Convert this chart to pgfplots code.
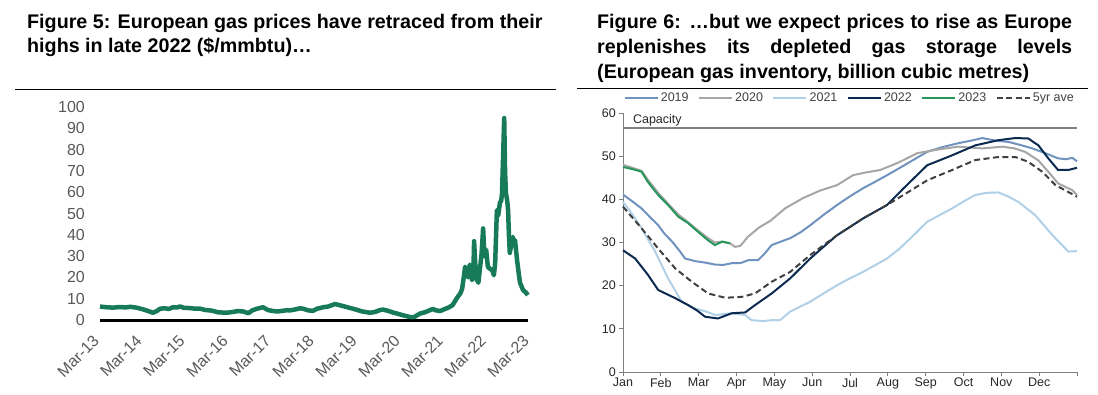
\documentclass[border=0pt]{standalone}
\usepackage{pgfplots}
\pgfplotsset{compat=1.18}
\usepackage{fontspec}
\setmainfont{Liberation Sans}
\definecolor{gasgreen}{RGB}{23,122,88}
\definecolor{tickgray}{RGB}{89,89,89}
\definecolor{axgray}{RGB}{128,128,128}
\definecolor{c2019}{RGB}{112,146,190}
\definecolor{c2020}{RGB}{166,166,166}
\definecolor{c2021}{RGB}{176,208,232}
\definecolor{c2022}{RGB}{12,42,80}
\definecolor{c2023}{RGB}{40,150,90}
\definecolor{c5yr}{RGB}{64,64,64}
\begin{document}
\begin{tikzpicture}
\useasboundingbox (0pt,0pt) rectangle (1098pt,394pt);
% ---------- titles ----------
\begin{scope}[every node/.style={anchor=base west, inner sep=0pt, font=\fontsize{19.7}{24}\selectfont\bfseries}]
\node at (27pt,365pt) {Figure 5: European gas prices have retraced from their};
\node at (27pt,341pt) {highs in late 2022 (\$/mmbtu)…};
\node at (597pt,365pt) {\makebox[475pt][s]{Figure 6: …but we expect prices to rise as Europe}};
\node at (597pt,340pt) {\makebox[475pt][s]{replenishes its depleted gas storage levels}};
\node at (597pt,315pt) {(European gas inventory, billion cubic metres)};
\end{scope}
\draw[line width=1pt] (15pt,304pt) -- (556pt,304pt);
\draw[line width=1pt] (577pt,305pt) -- (1088pt,305pt);
% ---------- left chart ----------
\begin{axis}[at={(100pt,74pt)}, anchor=south west, scale only axis,
  width=430pt, height=213pt, xmin=0, xmax=10, ymin=0, ymax=100,
  axis line style={draw=none}, major tick length=0pt, tick style={draw=none},
  ytick={0,10,...,100}, xtick={0,...,10},
  xticklabels={Mar-13,Mar-14,Mar-15,Mar-16,Mar-17,Mar-18,Mar-19,Mar-20,Mar-21,Mar-22,Mar-23},
  tick label style={font=\fontsize{16}{16}\selectfont, text=tickgray},
  /pgf/number format/assume math mode=true,
  yticklabel style={inner sep=0pt}, yticklabel shift=15pt,
  xticklabel style={xshift=-8pt, anchor=north east, rotate=45, inner sep=0pt}, xticklabel shift=14pt,
  clip=false]
\addplot[black, line width=3pt] coordinates {(0,0) (9.95,0)};
\addplot[gasgreen, line width=4.5pt, line join=round] coordinates {
(0,6.3) (0.15,6.0) (0.3,5.8) (0.45,6.1) (0.6,5.9) (0.7,6.2) (0.85,5.8) (1.0,5.0)
(1.15,4.0) (1.23,3.4) (1.32,4.2) (1.4,5.3) (1.5,5.5) (1.6,5.2) (1.7,6.0) (1.8,5.9)
(1.86,6.4) (1.95,5.7) (2.1,5.6) (2.2,5.3) (2.33,5.3) (2.45,4.7) (2.6,4.4) (2.75,3.6)
(2.95,3.4) (3.1,3.8) (3.2,4.2) (3.33,4.0) (3.45,3.2) (3.55,4.6) (3.65,5.3) (3.79,6.0)
(3.9,4.7) (4.0,4.3) (4.12,4.0) (4.25,4.3) (4.35,4.6) (4.42,4.5) (4.55,5.0) (4.65,5.5)
(4.72,5.3) (4.85,4.5) (4.95,4.3) (5.05,5.3) (5.19,6.0) (5.3,6.3) (5.47,7.5) (5.6,6.8)
(5.75,6.0) (5.88,5.3) (6.0,4.6) (6.1,4.0) (6.28,3.4) (6.4,3.8) (6.5,4.6) (6.58,4.9)
(6.7,4.3) (6.8,3.6) (6.91,3.0) (7.05,2.2) (7.21,1.4) (7.3,1.3) (7.44,3.0) (7.55,3.6)
(7.65,4.4) (7.74,5.2) (7.8,4.6) (7.91,4.2) (8.0,5.0) (8.1,5.8) (8.2,7.0) (8.3,10.3)
(8.38,12.5) (8.42,14.5) (8.46,20) (8.49,25) (8.52,23) (8.56,20) (8.6,26) (8.63,22)
(8.65,18.8) (8.68,19.5) (8.70,37) (8.73,25) (8.77,18.8) (8.8,17.5) (8.84,25) (8.87,30)
(8.91,43) (8.94,30) (8.98,33) (9.02,25) (9.07,24) (9.12,23.5) (9.16,21) (9.19,26.8)
(9.23,51.6) (9.26,49) (9.30,55) (9.33,56) (9.35,59.6) (9.40,94.8) (9.42,70) (9.44,59.6)
(9.47,56) (9.49,51.6) (9.51,40) (9.53,31.5) (9.56,35) (9.60,39) (9.63,35) (9.65,37.6)
(9.70,28) (9.75,20) (9.77,17.4) (9.84,14) (9.9,13) (9.95,11.7)};
\end{axis}
% ---------- right chart ----------
\begin{axis}[at={(623pt,22pt)}, anchor=south west, scale only axis,
  width=454pt, height=259pt, xmin=0, xmax=12, ymin=0, ymax=60,
  axis x line*=bottom, axis y line*=left,
  axis line style={draw=axgray, line width=0.8pt},
  tick align=outside, major tick length=4pt, tick style={draw=axgray, line width=0.8pt},
  xtick={0,...,12}, xticklabels={Jan,Feb,Mar,Apr,May,Jun,Jul,Aug,Sep,Oct,Nov,Dec,{}},
  ytick={0,10,...,60},
  tick label style={font=\fontsize{12.5}{13}\selectfont, text=black!85},
  /pgf/number format/assume math mode=true,
  yticklabel style={inner sep=0pt}, yticklabel shift=3pt,
  xticklabel style={inner sep=0pt}, xticklabel shift=2pt,
  legend columns=6,
  legend style={draw=none, fill=none, at={(0,1)}, anchor=west, yshift=15pt, xshift=0pt,
    font=\fontsize{12.5}{13}\selectfont, text=black!75, inner sep=0pt,
    /tikz/every even column/.append style={column sep=7pt},
    nodes={inner sep=2pt}},
  legend image code/.code={\draw[#1, line width=2.6pt] (0pt,0pt) -- (33pt,0pt);},
  clip=false]
\addplot[axgray, line width=1.5pt, forget plot] coordinates {(0,56.5) (12,56.5)};
\node[anchor=west, inner sep=0pt, font=\fontsize{12.5}{13}\selectfont, text=black!85] at (axis cs:0.26,58.4) {Capacity};
\addplot[c2019, line width=2pt] coordinates {
(0,41.1) (0.25,39.5) (0.49,37.9) (0.7,36) (0.93,34) (1.1,32) (1.3,30.2) (1.5,28) (1.64,26.3)
(1.9,25.7) (2.2,25.3) (2.43,24.9) (2.65,24.8) (2.87,25.2) (3.1,25.2) (3.31,25.9) (3.57,25.9)
(3.75,27.5) (3.93,29.4) (4.2,30.3) (4.42,31) (4.7,32.4) (4.95,34) (5.3,36.4) (5.66,38.7)
(6.0,40.7) (6.35,42.6) (6.65,44) (6.98,45.6) (7.3,47.2) (7.59,48.7) (8.04,51) (8.4,52)
(8.86,53) (9.2,53.6) (9.5,54.2) (9.85,53.6) (10.19,53.3) (10.5,52.6) (10.82,51.8)
(11.16,50.7) (11.5,49.5) (11.7,49.3) (11.88,49.6) (12,48.8)};
\addlegendentry{2019}
\addplot[c2020, line width=2pt] coordinates {
(0,48) (0.25,47.3) (0.49,46.6) (0.66,44.5) (0.93,41.5) (1.19,39) (1.46,36.5) (1.72,34.7)
(1.98,32.8) (2.25,31) (2.43,30) (2.62,30.2) (2.83,29.8) (2.96,29) (3.1,29.2) (3.3,31.3)
(3.6,33.5) (3.89,35) (4.3,38) (4.76,40.3) (5.2,42) (5.66,43.3) (6.08,45.6) (6.4,46.2)
(6.8,46.8) (7.25,48.4) (7.78,50.7) (8.3,51.5) (8.86,52.2) (9.5,51.8) (10.03,52.2)
(10.35,51.8) (10.63,51) (10.98,49) (11.24,46.4) (11.5,43.7) (11.88,42.1) (12,41)};
\addlegendentry{2020}
\addplot[c2021, line width=2pt] coordinates {
(0,39.4) (0.25,36.5) (0.49,33.3) (0.85,27.9) (1.19,21.7) (1.55,16.3) (1.9,14.7) (2.2,14)
(2.43,13.2) (2.87,13.6) (3.23,13.2) (3.4,12) (3.7,11.8) (3.93,12) (4.15,12) (4.42,14)
(4.95,16.3) (5.3,18.2) (5.66,20.1) (6.0,21.7) (6.35,23.2) (6.98,26.3) (7.3,28.5) (7.59,30.9)
(8.04,34.8) (8.7,37.9) (9.0,39.5) (9.31,41) (9.6,41.5) (9.92,41.6) (10.2,40.6) (10.45,39.4)
(10.9,36.3) (11.35,31.7) (11.77,27.9) (12,28)};
\addlegendentry{2021}
\addplot[c2022, line width=2pt] coordinates {
(0,28.2) (0.32,26.3) (0.66,22.5) (0.93,19) (1.38,17.1) (1.72,15.5) (1.95,14.3) (2.17,12.8)
(2.51,12.4) (2.87,13.6) (3.23,13.8) (3.49,15.5) (3.93,18.2) (4.42,21.7) (4.95,26.3) (5.3,29)
(5.66,31.7) (6.0,33.6) (6.35,35.6) (6.98,38.7) (7.41,42.5) (8.04,47.9) (8.7,50.2) (9.31,52.5)
(9.92,53.7) (10.37,54.2) (10.71,54.1) (10.98,52.5) (11.24,49.5) (11.5,46.8) (11.77,46.8) (12,47.3)};
\addlegendentry{2022}
\addplot[c2023, line width=2pt] coordinates {
(0,47.5) (0.25,47) (0.49,46.4) (0.66,44) (0.93,41) (1.19,38.7) (1.46,36) (1.72,34.5)
(1.98,32.5) (2.25,30.5) (2.43,29.4) (2.62,30.2) (2.83,29.8)};
\addlegendentry{2023}
\addplot[c5yr, line width=2pt, dash pattern=on 6pt off 3.5pt] coordinates {
(0,38.3) (0.49,33.3) (0.93,28.6) (1.38,24) (1.82,20.9) (2.25,18.2) (2.7,17.2) (3.14,17.4)
(3.49,18.2) (3.93,20.9) (4.42,23.2) (4.95,27.1) (5.66,31.7) (6.35,35.6) (6.98,38.7) (7.41,41)
(8.04,44.4) (8.7,46.8) (9.31,49.1) (9.92,49.8) (10.37,49.8) (10.71,48.7) (11.08,46.4)
(11.43,43.3) (11.77,41.7) (12,40.6)};
\addlegendentry{5yr ave}
\end{axis}
\end{tikzpicture}
\end{document}
